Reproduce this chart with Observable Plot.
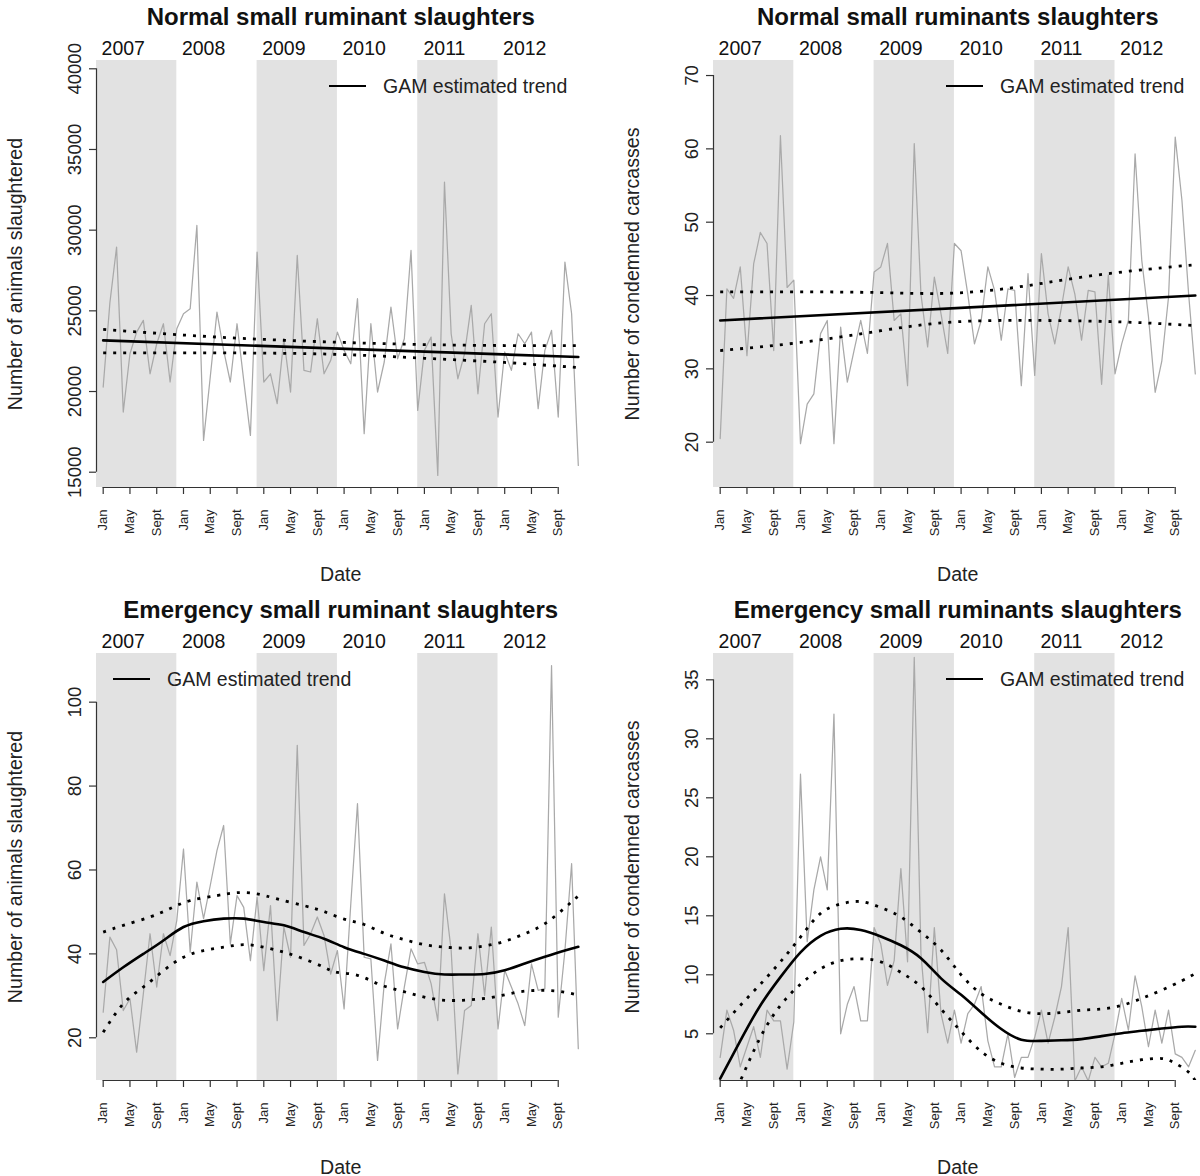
<!DOCTYPE html>
<html><head><meta charset="utf-8">
<script src="https://cdn.jsdelivr.net/npm/d3@7"></script>
<script src="https://cdn.jsdelivr.net/npm/@observablehq/plot@0.6"></script>
<style>
html,body{margin:0;padding:0;background:#fff;}
body{width:1200px;height:1176px;overflow:hidden;position:relative;font-family:"Liberation Sans",Arial,sans-serif;}
.panel{position:absolute;width:617px;height:593px;}
.legend{position:absolute;display:flex;align-items:center;font-size:19.5px;line-height:22px;height:22px;color:#222;white-space:nowrap;}
.legend .ln{display:inline-block;width:37px;height:2.6px;background:#000;margin-right:17px;}
</style></head><body>
<div id="p1" class="panel" style="left:0;top:0"></div>
<div id="p2" class="panel" style="left:617px;top:0"></div>
<div id="p3" class="panel" style="left:0;top:593px"></div>
<div id="p4" class="panel" style="left:617px;top:593px"></div>
<script>
// ---- axis / category data ----
const monthTicks = [0,4,8,12,16,20,24,28,32,36,40,44,48,52,56,60,64,68]; // month index from Jan 2007
const monthTickLabels = ["Jan","May","Sept","Jan","May","Sept","Jan","May","Sept","Jan","May","Sept","Jan","May","Sept","Jan","May","Sept"];
const years = ["2007","2008","2009","2010","2011","2012"];
const yearLabelMonth = [3,15,27,39,51,63];
const shadedStart = [-1,23,47];
const shadedEnd = [11,35,59];

// ---- Panel 1: normal slaughters, animals (monthly, Jan 2007 - Dec 2012) ----
const normalAnimals = [20280,25500,28950,18730,22340,23680,24410,21100,22960,24200,20590,23890,
 24820,25130,30290,16970,20900,24920,22550,20590,24200,20690,17280,28640,
 20590,21100,19250,23270,19970,28430,21310,21210,24510,21100,21930,23680,
 22550,21720,25750,17390,24200,19970,21830,25230,22030,23270,28740,18830,
 22550,23370,14800,32980,23580,20790,22340,25340,19860,24200,24820,18420,
 22450,21310,23580,22960,23680,18940,22550,23790,18420,28020,24820,15420];
const normalAnimalsFitMonth = [0,71];
const normalAnimalsFit = [23170,22135];
const normalAnimalsCIMonth = [0,12,24,36,48,60,71];
const normalAnimalsHi = [23850,23500,23230,23040,22910,22850,22850];
const normalAnimalsLo = [22400,22400,22380,22290,22060,21800,21480];

// ---- Panel 2: normal slaughters, condemned carcasses ----
const normalCarcasses = [20.5,40.9,39.6,43.9,31.8,44.3,48.6,47.1,32.5,61.8,41.1,42.1,
 19.8,25.2,26.6,34.8,36.6,19.8,35.7,28.2,32.5,36.6,32.1,43.2,
 43.9,47.1,36.6,37.5,27.7,60.7,40.2,33.0,42.5,37.5,32.1,47.1,
 46.1,40.2,33.4,36.6,43.9,40.7,33.9,40.9,40.7,27.7,43.0,29.1,
 45.7,37.5,33.4,38.4,43.9,40.2,33.9,40.7,40.5,27.9,42.8,29.3,
 33.4,36.6,59.3,44.8,37.1,26.8,31.1,39.8,61.6,53.0,40.2,29.3];
const normalCarcassesFitMonth = [0,71];
const normalCarcassesFit = [36.6,40.0];
const normalCarcassesHiMonth = [0,12,24,34,44,54,64,71];
const normalCarcassesHi = [40.5,40.5,40.4,40.3,41.1,42.5,43.6,44.2];
const normalCarcassesLoMonth = [0,12,24,35,48,60,71];
const normalCarcassesLo = [32.5,33.6,35.2,36.4,36.6,36.4,35.9];

// ---- Panel 3: emergency slaughters, animals ----
const emergencyAnimals = [26.1,44.0,41.0,26.5,29.3,16.6,30.5,44.8,32.1,44.8,39.6,48.0,
 65.0,40.4,57.1,48.4,56.3,64.6,70.6,42.4,53.9,51.1,38.4,53.5,
 36.0,51.5,24.1,46.4,39.2,89.7,42.0,44.8,48.8,44.4,35.2,40.8,
 26.9,51.9,75.8,39.2,38.8,14.6,32.9,42.4,22.1,32.1,41.2,37.6,
 38.0,32.9,24.1,54.3,40.8,11.4,26.5,27.7,44.8,30.1,46.4,22.1,
 36.1,32.1,28.1,22.9,37.6,31.3,31.7,108.7,24.9,40.8,61.5,17.4];
const emergencyAnimalsFitMonth = [0,3,6,9,12,15,18,21,24,27,30,33,36,39,42,45,48,51,54,57,60,63,66,69,71];
const emergencyAnimalsFit = [33.3,36.8,40.0,43.2,46.4,47.8,48.4,48.4,47.6,46.8,45.2,43.6,41.6,40.0,38.4,36.8,35.7,35.1,35.1,35.2,36.1,37.7,39.3,40.8,41.7];
const emergencyAnimalsHiMonth = [0,3,7,10,13,17,20,23,26,30,33,36,39,42,45,48,51,54,57,60,63,66,69,71];
const emergencyAnimalsHi = [45.2,46.8,48.8,50.8,52.7,53.9,54.6,54.3,53.1,51.5,50.1,48.3,47.0,44.9,43.4,42.2,41.6,41.4,41.9,43.0,44.8,47.2,51.0,53.8];
const emergencyAnimalsLoMonth = [0,3,6,9,12,15,18,21,24,27,30,33,35,38,41,44,47,50,53,56,59,62,65,68,71];
const emergencyAnimalsLo = [21.3,28.1,32.1,36.0,39.2,40.8,41.6,42.2,41.6,40.4,38.8,36.8,35.6,34.9,32.9,31.4,30.1,29.1,28.9,29.2,29.9,30.9,31.3,31.1,30.2];

// ---- Panel 4: emergency slaughters, condemned carcasses ----
const emergencyCarcasses = [3.0,7.0,5.3,2.2,3.9,5.6,3.0,7.0,6.1,6.1,2.0,6.0,
 27.0,12.8,17.2,20.0,17.2,32.1,5.0,7.5,9.0,6.1,6.1,14.0,
 12.6,9.1,11.2,19.0,11.1,36.9,11.8,5.1,14.0,6.7,4.2,7.0,
 4.2,6.7,7.5,9.0,4.4,2.2,2.2,5.0,1.3,3.0,3.0,4.7,
 7.0,4.2,6.4,9.0,14.0,1.0,2.2,1.0,3.0,2.2,2.5,5.0,
 8.0,5.3,9.9,7.3,3.9,7.0,4.2,7.0,3.3,3.0,2.2,3.6];
const emergencyCarcassesFitMonth = [0,3,6,9,12,15,18,21,24,27,30,33,36,39,42,45,48,51,54,57,60,63,66,69,71];
const emergencyCarcassesFit = [1.2,4.4,7.4,9.8,11.9,13.3,13.9,13.8,13.25,12.5,11.4,9.7,8.3,6.8,5.4,4.5,4.4,4.45,4.55,4.8,5.05,5.25,5.45,5.6,5.6];
const emergencyCarcassesHiMonth = [0,3,6,9,12,15,18,21,24,27,30,33,36,39,42,45,48,51,54,57,60,63,66,69,71];
const emergencyCarcassesHi = [5.5,7.4,9.2,11.1,13.2,15.2,16.0,16.2,15.7,14.9,13.6,12.1,10.0,8.4,7.5,6.9,6.7,6.8,7.0,7.1,7.4,8.0,8.7,9.5,10.1];
const emergencyCarcassesLoMonth = [0,3,6,9,12,15,18,21,24,27,30,33,36,39,42,45,48,51,54,57,60,63,66,68,70,71];
const emergencyCarcassesLo = [-2.7,1.0,4.7,7.4,9.2,10.5,11.2,11.35,11.1,10.2,9.0,7.1,5.2,3.5,2.5,2.1,2.0,2.0,2.1,2.2,2.5,2.8,2.9,2.5,1.75,1.0];

const panels = [
  {id:"p1", title:"Normal small ruminant slaughters", ylabel:"Number of animals slaughtered",
   obs:normalAnimals, fitM:normalAnimalsFitMonth, fit:normalAnimalsFit,
   hiM:normalAnimalsCIMonth, hi:normalAnimalsHi, loM:normalAnimalsCIMonth, lo:normalAnimalsLo,
   yDomain:[14052,40514], yTicks:[15000,20000,25000,30000,35000,40000], legend:"right"},
  {id:"p2", title:"Normal small ruminants slaughters", ylabel:"Number of condemned carcasses",
   obs:normalCarcasses, fitM:normalCarcassesFitMonth, fit:normalCarcassesFit,
   hiM:normalCarcassesHiMonth, hi:normalCarcassesHi, loM:normalCarcassesLoMonth, lo:normalCarcassesLo,
   yDomain:[13.82,72.05], yTicks:[20,30,40,50,60,70], legend:"right"},
  {id:"p3", title:"Emergency small ruminant slaughters", ylabel:"Number of animals slaughtered",
   obs:emergencyAnimals, fitM:emergencyAnimalsFitMonth, fit:emergencyAnimalsFit,
   hiM:emergencyAnimalsHiMonth, hi:emergencyAnimalsHi, loM:emergencyAnimalsLoMonth, lo:emergencyAnimalsLo,
   yDomain:[9.82,111.6], yTicks:[20,40,60,80,100], legend:"left"},
  {id:"p4", title:"Emergency small ruminants slaughters", ylabel:"Number of condemned carcasses",
   obs:emergencyCarcasses, fitM:emergencyCarcassesFitMonth, fit:emergencyCarcassesFit,
   hiM:emergencyCarcassesHiMonth, hi:emergencyCarcassesHi, loM:emergencyCarcassesLoMonth, lo:emergencyCarcassesLo,
   yDomain:[1.04,37.23], yTicks:[5,10,15,20,25,30,35], legend:"right"}
];

const FONT = '"Liberation Sans", Arial, Helvetica, sans-serif';
const pairs = (xs, ys) => xs.map((m, k) => ({m, v: ys[k]}));
const dotted = {curve: "natural", stroke: "#000", strokeWidth: 2.8, strokeDasharray: "3,7", strokeLinecap: "butt", clip: true};

for (const p of panels) {
  const obs = p.obs.map((v, m) => ({m, v}));
  const bands = shadedStart.map((s, k) => ({s, e: shadedEnd[k]}));
  const chart = Plot.plot({
    width: 617, height: 593,
    marginLeft: 96, marginRight: 32.5, marginTop: 60, marginBottom: 106,
    x: {domain: [-1, 72], axis: null},
    y: {domain: p.yDomain, axis: null},
    style: {fontFamily: FONT, fontSize: "19.5px", color: "#1a1a1a", background: "transparent"},
    marks: [
      Plot.rect(bands, {x1: "s", x2: "e", y1: p.yDomain[0], y2: p.yDomain[1], fill: "#e2e2e2"}),
      Plot.line(obs, {x: "m", y: "v", stroke: "#a9a9a9", strokeWidth: 1.25, clip: true}),
      Plot.line(pairs(p.hiM, p.hi), {x: "m", y: "v", ...dotted}),
      Plot.line(pairs(p.loM, p.lo), {x: "m", y: "v", ...dotted}),
      Plot.line(pairs(p.fitM, p.fit), {x: "m", y: "v", curve: "natural", stroke: "#000", strokeWidth: 2.6, clip: true}),
      // y axis
      Plot.ruleX([-1], {y1: p.yTicks[0], y2: p.yTicks[p.yTicks.length - 1], stroke: "#333", strokeWidth: 1.2}),
      Plot.axisY({ticks: p.yTicks, tickSize: 7, tickFormat: () => "", label: null, stroke: "#333", strokeWidth: 1.2}),
      Plot.text(p.yTicks, {y: d => d, text: d => String(d), frameAnchor: "left", dx: -16, rotate: -90,
        textAnchor: "middle", lineAnchor: "bottom", fontSize: 18.5, fill: "#222"}),
      // x axis
      Plot.ruleY([p.yDomain[0]], {x1: monthTicks[0], x2: monthTicks[monthTicks.length - 1], stroke: "#333", strokeWidth: 1.2}),
      Plot.axisX({ticks: monthTicks, tickSize: 7, tickFormat: () => "", label: null, stroke: "#333", strokeWidth: 1.2}),
      Plot.text(monthTicks, {x: d => d, text: (d, k) => monthTickLabels[k], frameAnchor: "bottom", dy: 22, rotate: -90,
        textAnchor: "end", lineAnchor: "middle", fontSize: 13, fill: "#222"}),
      // year labels on top
      Plot.text(yearLabelMonth, {x: d => d, text: (d, k) => years[k], frameAnchor: "top", dy: -6, lineAnchor: "bottom", fontSize: 19.5, fill: "#111"}),
      // titles and axis labels
      Plot.text([p.title], {text: d => d, frameAnchor: "top", dy: -36, lineAnchor: "bottom", fontWeight: "bold", fontSize: 24, fill: "#111"}),
      Plot.text([p.ylabel], {text: d => d, frameAnchor: "left", dx: -75, rotate: -90, textAnchor: "middle", lineAnchor: "bottom", fontSize: 19.6, fill: "#222"}),
      Plot.text(["Date"], {text: d => d, frameAnchor: "bottom", dy: 93, lineAnchor: "bottom", fontSize: 19.6, fill: "#222"})
    ]
  });
  const host = document.getElementById(p.id);
  host.appendChild(chart);
  const lg = document.createElement("div");
  lg.className = "legend";
  lg.style.top = "75px";
  lg.style.left = (p.legend === "right" ? 329 : 113) + "px";
  lg.innerHTML = '<span class="ln"></span><span>GAM estimated trend</span>';
  host.appendChild(lg);
}
</script>
</body></html>
